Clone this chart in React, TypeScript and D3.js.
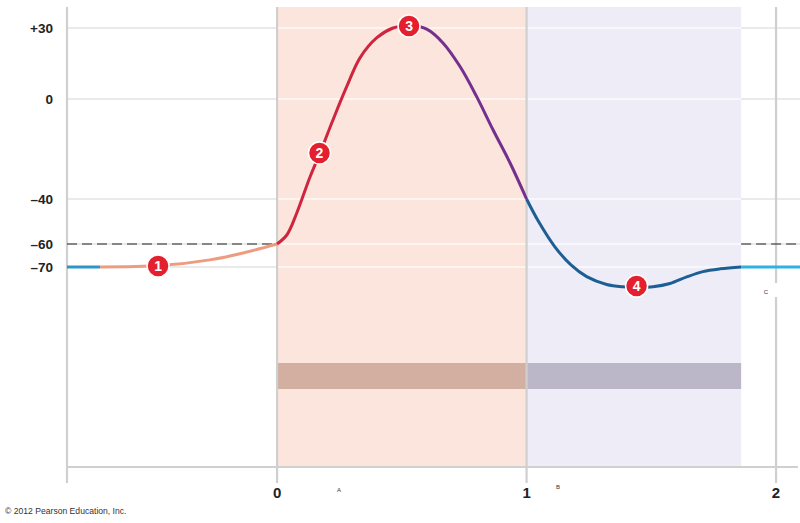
import React from "react";
import * as d3 from "d3";

// ---- data (time in ms, membrane potential in mV) ----
const restStart: [number, number][] = [
  [-0.842, -70],
  [-0.709, -70],
];
const depolStim: [number, number][] = [
  [-0.709, -70],
  [-0.469, -69.4],
  [-0.269, -66.9],
  [-0.136, -63.9],
  [0, -60],
];
const rising: [number, number][] = [
  [0, -60],
  [0.039, -56],
  [0.079, -46.2],
  [0.132, -31.2],
  [0.172, -21.6],
  [0.224, -8.4],
  [0.279, 5.2],
  [0.333, 17.5],
  [0.4, 25.9],
  [0.465, 30],
  [0.533, 31.3],
];
const falling: [number, number][] = [
  [0.533, 31.3],
  [0.6, 29.5],
  [0.665, 23.7],
  [0.734, 13.6],
  [0.8, 1.0],
  [0.866, -12.4],
  [0.934, -25.6],
  [1.0, -40],
];
const undershoot: [number, number][] = [
  [1.0, -40],
  [1.047, -49.8],
  [1.112, -61.0],
  [1.178, -69.1],
  [1.241, -74.2],
  [1.321, -77.6],
  [1.387, -78.6],
  [1.442, -78.8],
  [1.507, -78.6],
  [1.575, -77.2],
  [1.642, -74.3],
  [1.707, -72.0],
  [1.776, -70.8],
  [1.86, -70],
];
const restEnd: [number, number][] = [
  [1.86, -70],
  [2.096, -70],
];

const yTickValues = [30, 0, -40, -60, -70];
const yTickLabels = ["+30", "0", "\u201340", "\u201360", "\u201370"];
const xTickValues = [0, 1, 2];
const xTickLabels = ["0", "1", "2"];
const threshold = -60;

const phases = [
  { start: 0, end: 1, label: "A" },
  { start: 1, end: 1.86, label: "B" },
];
const markerIds = ["1", "2", "3", "4"];
const markerT = [-0.477, 0.17, 0.529, 1.441];
const markerV = [-69.6, -21.6, 30.9, -78.3];

const segColors = ["#2b97c8", "#ee9c80", "#cf2640", "#74308e", "#1d5f95", "#2ab3e3"];

const W = 800;
const H = 523;

export default function App() {
  const x = d3.scaleLinear().domain([-0.842, 2.088]).range([67, 798]);
  const y = d3
    .scaleLinear()
    .domain([39, 30, 0, -40, -60, -70, -157])
    .range([7, 28, 99, 199, 244, 267, 467]);

  const line = d3
    .line<[number, number]>()
    .x((d) => x(d[0]))
    .y((d) => y(d[1]))
    .curve(d3.curveCatmullRom.alpha(0.5));

  const segments = [restStart, depolStim, rising, falling, undershoot, restEnd];
  const top = y(39);
  const bottom = y(-157);
  const left = x(-0.842);
  const right = x(2.088);
  const font = "'Liberation Sans', Arial, Helvetica, sans-serif";
  const phaseFill = ["#fce5dc", "#eeecf6"];
  const bandFill = ["#d3afa1", "#bbb7c9"];

  return (
    <svg
      width={W}
      height={H}
      style={{ position: "absolute", left: 0, top: 0, background: "#fff" }}
    >
      {/* grey horizontal gridlines */}
      {yTickValues.map((v) => (
        <line key={"g" + v} x1={left} x2={right + 2} y1={y(v)} y2={y(v)} stroke="#e3e3e3" strokeWidth={1.5} />
      ))}
      {/* phase shading */}
      {phases.map((p, i) => (
        <rect
          key={"p" + i}
          x={x(p.start)}
          y={top}
          width={x(p.end) - x(p.start)}
          height={bottom - top}
          fill={phaseFill[i]}
        />
      ))}
      {/* white gridlines over shading */}
      {yTickValues.map((v) => (
        <line
          key={"w" + v}
          x1={x(phases[0].start)}
          x2={x(phases[phases.length - 1].end)}
          y1={y(v)}
          y2={y(v)}
          stroke="#ffffff"
          strokeOpacity={0.75}
          strokeWidth={1.5}
        />
      ))}
      {/* bands */}
      {phases.map((p, i) => (
        <rect
          key={"b" + i}
          x={x(p.start)}
          y={363}
          width={x(p.end) - x(p.start)}
          height={26}
          fill={bandFill[i]}
        />
      ))}
      {/* axes */}
      <line x1={left} x2={left} y1={top} y2={483} stroke="#d0d0d0" strokeWidth={2.2} />
      {xTickValues.map((t) => (
        <line key={"v" + t} x1={x(t)} x2={x(t)} y1={top} y2={483} stroke="#cfcfcf" strokeWidth={2.2} />
      ))}
      <line x1={left} x2={right} y1={bottom} y2={bottom} stroke="#d0d0d0" strokeWidth={2.2} />
      {/* threshold dashes */}
      <line
        x1={left}
        x2={x(phases[0].start)}
        y1={y(threshold)}
        y2={y(threshold)}
        stroke="#222"
        strokeWidth={1.2}
        strokeDasharray="10,5"
      />
      <line
        x1={x(phases[phases.length - 1].end)}
        x2={W}
        y1={y(threshold)}
        y2={y(threshold)}
        stroke="#222"
        strokeWidth={1.2}
        strokeDasharray="10,5"
      />
      {/* curve */}
      {segments.map((s, i) => (
        <path key={"s" + i} d={line(s) || ""} fill="none" stroke={segColors[i]} strokeWidth={3} strokeLinecap="butt" />
      ))}
      {/* markers */}
      {markerIds.map((m, i) => (
        <g key={"m" + m} transform={`translate(${x(markerT[i])},${y(markerV[i])})`}>
          <circle r={11} fill="#e4202e" stroke="#fff" strokeWidth={1.5} />
          <text
            textAnchor="middle"
            dy="0.36em"
            fill="#fff"
            fontFamily={font}
            fontWeight="bold"
            fontSize={14}
          >
            {m}
          </text>
        </g>
      ))}
      {/* y labels */}
      {yTickValues.map((v, i) => (
        <text
          key={"yl" + v}
          x={53}
          y={y(v)}
          dy="0.36em"
          textAnchor="end"
          fontFamily={font}
          fontWeight="bold"
          fontSize={13.5}
          fill="#222"
        >
          {yTickLabels[i]}
        </text>
      ))}
      {/* x labels */}
      {xTickValues.map((t, i) => (
        <text
          key={"xl" + t}
          x={x(t)}
          y={498}
          textAnchor="middle"
          fontFamily={font}
          fontWeight="bold"
          fontSize={15}
          fill="#222"
        >
          {xTickLabels[i]}
        </text>
      ))}
      {/* tiny letters */}
      <text x={339} y={492} textAnchor="middle" fontFamily={font} fontSize={6} fill="#333">
        {phases[0].label}
      </text>
      <text x={558} y={489} textAnchor="middle" fontFamily={font} fontSize={6} fill="#333">
        {phases[1].label}
      </text>
      <rect x={758} y={283} width={32} height={14} fill="#fff" />
      <text x={766} y={294} textAnchor="middle" fontFamily={font} fontSize={6} fill="#333">
        C
      </text>
      <text x={5} y={514} fontFamily={font} fontSize={8.6} fill="#333">
        © 2012 Pearson Education, Inc.
      </text>
    </svg>
  );
}
